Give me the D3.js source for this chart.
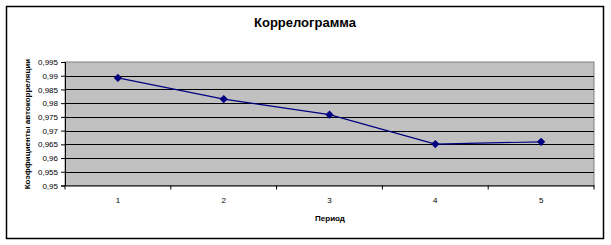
<!DOCTYPE html>
<html>
<head>
<meta charset="utf-8">
<script src="https://cdn.jsdelivr.net/npm/d3@7"></script>
<style>
  body { margin: 0; background: #fff; }
  text { font-family: "Liberation Sans", Arial, sans-serif; }
</style>
</head>
<body>
<svg id="chart" width="611" height="245"></svg>
<script>
const periods = [1, 2, 3, 4, 5];
const coefs = [0.9892, 0.9815, 0.9758, 0.9651, 0.9659];
const yTicks = [0.95, 0.955, 0.96, 0.965, 0.97, 0.975, 0.98, 0.985, 0.99, 0.995];

const svg = d3.select("#chart");
const margin = { left: 65, top: 62, right: 594, bottom: 185.5 };

// outer frame
svg.append("rect")
  .attr("x", 6.5).attr("y", 6.5)
  .attr("width", 597).attr("height", 232)
  .attr("fill", "#fff").attr("stroke", "#000").attr("stroke-width", 1.5);

svg.append("text")
  .attr("x", 305).attr("y", 27)
  .attr("text-anchor", "middle")
  .style("font-size", "13px").style("font-weight", "bold")
  .text("Коррелограмма");

const x = d3.scaleBand()
  .domain(periods)
  .range([margin.left, margin.right]);

const y = d3.scaleLinear()
  .domain([0.95, 0.995])
  .range([margin.bottom, margin.top]);

// plot area
svg.append("rect")
  .attr("x", margin.left).attr("y", margin.top)
  .attr("width", margin.right - margin.left)
  .attr("height", margin.bottom - margin.top)
  .attr("fill", "#c0c0c0")
  .attr("stroke", "#808080");

// gridlines
svg.append("g")
  .selectAll("line")
  .data(yTicks.slice(1, -1))
  .enter()
  .append("line")
  .attr("x1", margin.left).attr("x2", margin.right)
  .attr("y1", d => Math.round(y(d)) + 0.5)
  .attr("y2", d => Math.round(y(d)) + 0.5)
  .attr("stroke", "#000");

// Y axis
const yAxis = svg.append("g")
  .attr("transform", "translate(" + margin.left + ",0)")
  .call(d3.axisLeft(y).tickValues(yTicks).tickSize(4).tickPadding(3)
    .tickFormat(d => d3.format(".3~f")(d).replace(".", ",")));
yAxis.select(".domain").attr("stroke", "#000");
yAxis.selectAll("text").style("font-size", "8px").attr("fill", "#000");

// X axis
const xAxis = svg.append("g")
  .attr("transform", "translate(0," + margin.bottom + ")")
  .call(d3.axisBottom(x).tickSize(0).tickPadding(12));
xAxis.select(".domain").attr("stroke", "#000");
xAxis.selectAll("text").style("font-size", "8px").attr("fill", "#000");

// ticks between categories
const bounds = periods.map(p => x(p)).concat([margin.right]);
svg.append("g")
  .selectAll("line")
  .data(bounds)
  .enter()
  .append("line")
  .attr("x1", d => d).attr("x2", d => d)
  .attr("y1", margin.bottom).attr("y2", margin.bottom + 4)
  .attr("stroke", "#000");

// axis titles
svg.append("text")
  .attr("x", 330).attr("y", 221)
  .attr("text-anchor", "middle")
  .style("font-size", "8px").style("font-weight", "bold")
  .text("Период");

svg.append("text")
  .attr("transform", "translate(30,124) rotate(-90)")
  .attr("text-anchor", "middle")
  .style("font-size", "8px").style("font-weight", "bold")
  .text("Коэффициенты автокорреляции");

// line + markers
const cx = d => x(d) + x.bandwidth() / 2;
const line = d3.line()
  .x((d, i) => cx(periods[i]))
  .y(d => y(d));

svg.append("path")
  .datum(coefs)
  .attr("d", line)
  .attr("fill", "none")
  .attr("stroke", "#000080")
  .attr("stroke-width", 1.2);

svg.append("g")
  .selectAll("path")
  .data(coefs)
  .enter()
  .append("path")
  .attr("d", d3.symbol().type(d3.symbolSquare).size(34))
  .attr("transform", (d, i) => "translate(" + cx(periods[i]) + "," + y(d) + ") rotate(45)")
  .attr("fill", "#000080");
</script>
</body>
</html>
